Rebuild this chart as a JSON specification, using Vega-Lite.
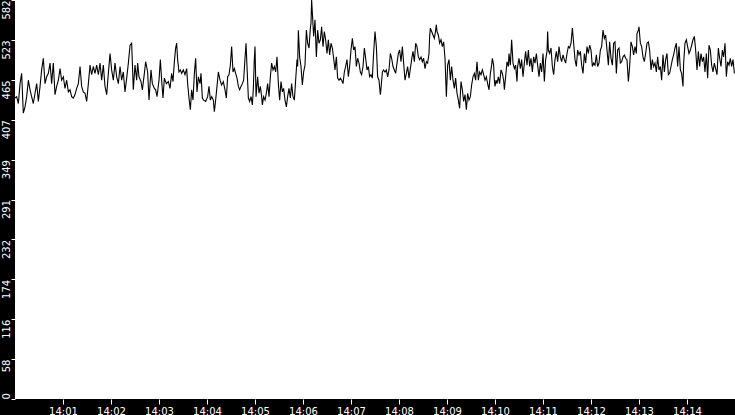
{
"$schema": "https://vega.github.io/schema/vega-lite/v6.json",
"width": 720, "height": 399,
"autosize": {"type": "none"},
"padding": {"left": 15, "top": 0, "right": 0, "bottom": 16},
"background": "black",
"config": {"view": {"fill": "white", "stroke": null}},
"data": {"values": [
{"s":0,"v":439},{"s":2.1,"v":441},{"s":4.2,"v":431},{"s":6.3,"v":460},{"s":8.3,"v":475},{"s":10.4,"v":417},{"s":12.5,"v":426},{"s":14.6,"v":441},{"s":16.7,"v":465},{"s":18.8,"v":451},
{"s":20.8,"v":441},{"s":22.9,"v":431},{"s":25,"v":446},{"s":27.1,"v":460},{"s":29.2,"v":434},{"s":31.3,"v":456},{"s":33.3,"v":480},{"s":35.4,"v":497},{"s":37.5,"v":460},{"s":39.6,"v":470},
{"s":41.7,"v":475},{"s":43.8,"v":490},{"s":45.8,"v":460},{"s":47.9,"v":490},{"s":50,"v":444},{"s":52.1,"v":456},{"s":54.2,"v":465},{"s":56.3,"v":482},{"s":58.3,"v":465},{"s":60.4,"v":470},
{"s":62.5,"v":453},{"s":64.6,"v":465},{"s":66.7,"v":448},{"s":68.8,"v":451},{"s":70.8,"v":441},{"s":72.9,"v":439},{"s":75,"v":444},{"s":77.1,"v":453},{"s":79.2,"v":460},{"s":81.3,"v":485},
{"s":83.3,"v":456},{"s":85.4,"v":448},{"s":87.5,"v":446},{"s":89.6,"v":434},{"s":91.7,"v":460},{"s":93.8,"v":487},{"s":95.8,"v":473},{"s":97.9,"v":485},{"s":100,"v":475},{"s":102.1,"v":487},
{"s":104.2,"v":473},{"s":106.3,"v":490},{"s":108.3,"v":465},{"s":110.4,"v":487},{"s":112.5,"v":456},{"s":114.6,"v":444},{"s":116.7,"v":475},{"s":118.8,"v":504},{"s":120.8,"v":480},{"s":122.9,"v":465},
{"s":125,"v":490},{"s":127.1,"v":470},{"s":129.2,"v":460},{"s":131.3,"v":485},{"s":133.3,"v":465},{"s":135.4,"v":477},{"s":137.5,"v":448},{"s":139.6,"v":468},{"s":141.7,"v":490},{"s":143.8,"v":516},
{"s":145.8,"v":519},{"s":147.9,"v":451},
{"s":150,"v":487},{"s":152.1,"v":465},{"s":153.3,"v":490},{"s":155,"v":470},{"s":157.5,"v":463},{"s":159.2,"v":451},{"s":161.7,"v":475},{"s":163.3,"v":492},{"s":165.8,"v":477},{"s":167.5,"v":436},
{"s":170,"v":480},{"s":171.7,"v":460},{"s":174.2,"v":453},{"s":175.8,"v":451},{"s":177.5,"v":441},{"s":180,"v":465},{"s":181.7,"v":495},{"s":183.3,"v":465},{"s":185,"v":439},{"s":186.7,"v":468},
{"s":189.2,"v":460},{"s":191.7,"v":463},{"s":193.8,"v":453},{"s":195.8,"v":475},{"s":197.5,"v":463},{"s":199.2,"v":492},{"s":200.8,"v":512},{"s":202.1,"v":519},{"s":203.3,"v":495},{"s":205,"v":477},
{"s":206.7,"v":480},{"s":208.3,"v":475},{"s":210.4,"v":480},{"s":212.5,"v":473},{"s":214.6,"v":482},{"s":215.8,"v":460},{"s":217.5,"v":439},{"s":219.2,"v":422},{"s":220.8,"v":451},{"s":222.5,"v":436},
{"s":224.2,"v":475},{"s":225.8,"v":497},{"s":227.5,"v":448},{"s":229.2,"v":470},{"s":231.3,"v":460},{"s":232.5,"v":475},{"s":234.2,"v":439},{"s":235.8,"v":436},{"s":238.3,"v":434},{"s":240.8,"v":441},
{"s":242.5,"v":456},{"s":244.2,"v":436},{"s":245.8,"v":441},{"s":247.9,"v":436},{"s":249.2,"v":419},{"s":250.8,"v":436},{"s":252.5,"v":456},{"s":254.2,"v":477},{"s":256.3,"v":465},{"s":258.3,"v":458},
{"s":260.4,"v":463},{"s":262.5,"v":451},{"s":264.2,"v":439},{"s":265.8,"v":470},{"s":267.5,"v":473},{"s":269.2,"v":487},{"s":270.8,"v":514},{"s":272.5,"v":477},{"s":274.2,"v":482},{"s":275.8,"v":475},
{"s":277.5,"v":468},{"s":279.2,"v":456},{"s":280.8,"v":451},{"s":282.5,"v":456},{"s":284.2,"v":460},{"s":285.8,"v":465},{"s":287.5,"v":497},{"s":288.8,"v":519},{"s":290,"v":485},{"s":291.7,"v":439},
{"s":293.3,"v":434},{"s":295,"v":441},{"s":296.7,"v":429},{"s":297.9,"v":453},{"s":299.2,"v":497},
{"s":300,"v":514},{"s":301.3,"v":441},{"s":303.3,"v":470},{"s":305,"v":446},{"s":306.7,"v":456},{"s":308.3,"v":441},{"s":309.2,"v":429},{"s":310.8,"v":441},{"s":312.5,"v":436},{"s":314.2,"v":446},
{"s":315.8,"v":460},{"s":317.5,"v":441},{"s":319.2,"v":470},{"s":320.8,"v":490},{"s":322.5,"v":480},{"s":324.2,"v":485},{"s":325.8,"v":477},{"s":327.5,"v":499},{"s":329.2,"v":460},{"s":330.8,"v":436},
{"s":332.5,"v":463},{"s":334.2,"v":448},{"s":335.8,"v":453},{"s":337.5,"v":436},{"s":339.2,"v":426},{"s":340.8,"v":441},{"s":342.5,"v":453},{"s":344.2,"v":439},{"s":345.8,"v":460},{"s":347.5,"v":441},
{"s":349.2,"v":436},{"s":350.8,"v":465},{"s":352.5,"v":495},{"s":353.3,"v":485},{"s":354.2,"v":538},{"s":355.8,"v":499},{"s":357.5,"v":485},{"s":359.2,"v":458},{"s":360.8,"v":477},{"s":362.5,"v":487},
{"s":364.2,"v":538},{"s":365.8,"v":519},{"s":367.5,"v":512},{"s":369.2,"v":541},{"s":370,"v":548},{"s":370.8,"v":582},{"s":371.7,"v":563},{"s":373.3,"v":529},{"s":375,"v":553},{"s":376.7,"v":499},
{"s":378.3,"v":538},{"s":380,"v":519},{"s":381.7,"v":524},{"s":383.3,"v":543},{"s":385,"v":514},{"s":386.7,"v":536},{"s":388.3,"v":524},{"s":390,"v":504},{"s":391.7,"v":524},{"s":393.3,"v":502},
{"s":395,"v":519},{"s":396.7,"v":512},{"s":398.3,"v":497},{"s":400,"v":480},{"s":401.7,"v":499},{"s":403.3,"v":468},{"s":405,"v":465},{"s":406.7,"v":468},{"s":408.3,"v":465},{"s":410,"v":460},
{"s":411.7,"v":477},{"s":413.3,"v":485},{"s":415,"v":495},{"s":416.7,"v":470},{"s":418.3,"v":485},{"s":420,"v":509},{"s":421.7,"v":526},{"s":423.3,"v":509},{"s":425,"v":514},{"s":426.7,"v":485},
{"s":428.3,"v":497},{"s":430,"v":490},{"s":431.7,"v":477},{"s":433.3,"v":473},{"s":435,"v":485},{"s":436.7,"v":512},{"s":438.3,"v":497},{"s":440,"v":480},{"s":441.7,"v":485},{"s":443.3,"v":470},
{"s":445,"v":473},{"s":446.7,"v":468},{"s":447.9,"v":497},
{"s":450,"v":536},{"s":451.7,"v":514},{"s":453.3,"v":470},{"s":455,"v":465},{"s":456.7,"v":444},{"s":457.5,"v":453},{"s":459.2,"v":477},{"s":460.8,"v":480},{"s":462.5,"v":477},{"s":464.2,"v":480},
{"s":465.8,"v":470},{"s":467.5,"v":480},{"s":469.2,"v":504},{"s":470.8,"v":497},{"s":472.5,"v":485},{"s":474.2,"v":480},{"s":475.8,"v":475},{"s":477.5,"v":490},{"s":479.2,"v":504},{"s":480.8,"v":509},
{"s":482.5,"v":492},{"s":484.2,"v":514},{"s":485.8,"v":490},{"s":487.5,"v":465},{"s":489.2,"v":475},{"s":490.8,"v":485},{"s":492.5,"v":468},{"s":494.2,"v":482},{"s":495.8,"v":495},{"s":497.5,"v":507},
{"s":499.2,"v":492},{"s":500.8,"v":519},{"s":502.5,"v":514},{"s":504.2,"v":499},{"s":505.8,"v":495},{"s":507.5,"v":499},{"s":509.2,"v":492},{"s":510.8,"v":497},{"s":512.5,"v":482},{"s":514.2,"v":492},
{"s":515.8,"v":490},{"s":517.5,"v":504},{"s":518.3,"v":529},{"s":519.2,"v":541},{"s":520.8,"v":536},{"s":522.5,"v":531},{"s":524.2,"v":526},{"s":525.8,"v":538},{"s":526.7,"v":546},{"s":527.5,"v":536},
{"s":529.2,"v":531},{"s":530.8,"v":519},{"s":532.5,"v":524},{"s":534.2,"v":514},{"s":535.8,"v":521},{"s":537.5,"v":497},{"s":539.2,"v":441},{"s":540.8,"v":487},{"s":542.5,"v":495},{"s":544.2,"v":465},
{"s":545.8,"v":485},{"s":547.5,"v":465},{"s":549.2,"v":453},{"s":550.8,"v":468},{"s":552.5,"v":446},{"s":554.2,"v":436},{"s":555.8,"v":424},{"s":557.5,"v":463},{"s":559.2,"v":451},{"s":560.8,"v":434},
{"s":562.5,"v":444},{"s":564.2,"v":422},{"s":565.8,"v":446},{"s":567.5,"v":436},{"s":569.2,"v":441},{"s":570.8,"v":458},{"s":572.5,"v":470},{"s":574.2,"v":475},{"s":575.8,"v":465},{"s":577.5,"v":492},
{"s":579.2,"v":465},{"s":580.8,"v":477},{"s":582.5,"v":473},{"s":584.2,"v":480},{"s":585.8,"v":473},{"s":587.5,"v":465},{"s":589.2,"v":470},{"s":590.8,"v":460},{"s":592.5,"v":451},{"s":594.2,"v":475},
{"s":595.8,"v":487},{"s":596.7,"v":497},{"s":598.3,"v":487},{"s":599.2,"v":465},
{"s":600,"v":456},{"s":601.3,"v":465},{"s":602.5,"v":460},{"s":604.2,"v":470},{"s":605.8,"v":460},{"s":607.5,"v":480},{"s":609.2,"v":475},{"s":610.8,"v":465},{"s":611.7,"v":451},{"s":613.3,"v":470},
{"s":615,"v":492},{"s":616.7,"v":485},{"s":617.5,"v":504},{"s":619.2,"v":487},{"s":620.8,"v":524},{"s":622.5,"v":490},{"s":624.2,"v":482},{"s":625.8,"v":487},{"s":627.5,"v":463},{"s":628.3,"v":485},
{"s":630,"v":497},{"s":631.7,"v":482},{"s":633.3,"v":495},{"s":635,"v":470},{"s":636.7,"v":490},{"s":638.3,"v":507},{"s":640,"v":487},{"s":641.7,"v":509},{"s":643.3,"v":485},{"s":645,"v":497},
{"s":646.7,"v":477},{"s":648.3,"v":499},{"s":650,"v":490},{"s":651.7,"v":504},{"s":653.3,"v":487},{"s":655,"v":470},{"s":656.7,"v":490},{"s":658.3,"v":477},{"s":660,"v":504},{"s":661.7,"v":463},
{"s":663.3,"v":495},{"s":665,"v":507},{"s":665.8,"v":536},{"s":666.7,"v":509},{"s":668.3,"v":504},{"s":670,"v":512},{"s":671.7,"v":485},{"s":673.3,"v":473},{"s":675,"v":495},{"s":676.7,"v":507},
{"s":678.3,"v":492},{"s":680,"v":514},{"s":681.7,"v":499},{"s":683.3,"v":492},{"s":685,"v":502},{"s":686.7,"v":495},{"s":688.3,"v":490},{"s":690,"v":504},{"s":691.7,"v":514},{"s":693.3,"v":512},
{"s":695,"v":519},{"s":696.7,"v":541},{"s":698.3,"v":519},{"s":700,"v":495},{"s":701.7,"v":485},{"s":703.3,"v":509},{"s":705,"v":502},{"s":706.7,"v":507},{"s":708.3,"v":487},{"s":710,"v":475},
{"s":711.7,"v":504},{"s":713.3,"v":490},{"s":715,"v":514},{"s":716.7,"v":504},{"s":718.3,"v":516},{"s":720,"v":509},{"s":721.7,"v":485},{"s":723.3,"v":490},{"s":725,"v":487},{"s":726.7,"v":502},
{"s":728.3,"v":485},{"s":730,"v":490},{"s":731.7,"v":509},{"s":733.3,"v":514},{"s":735,"v":538},{"s":736.7,"v":526},{"s":738.3,"v":531},{"s":740,"v":509},{"s":741.7,"v":487},{"s":743.3,"v":521},
{"s":745,"v":497},{"s":746.7,"v":487},{"s":748.3,"v":519},
{"s":750,"v":521},{"s":751.7,"v":475},{"s":753.3,"v":509},{"s":755,"v":512},{"s":756.7,"v":490},{"s":758.3,"v":492},{"s":760,"v":499},{"s":761.7,"v":502},{"s":763.3,"v":497},{"s":765,"v":495},
{"s":766.7,"v":463},{"s":768.3,"v":485},{"s":770,"v":521},{"s":771.7,"v":514},{"s":773.3,"v":502},{"s":775,"v":514},{"s":776.7,"v":504},{"s":777.5,"v":533},{"s":779.2,"v":538},{"s":780,"v":543},
{"s":781.7,"v":519},{"s":783.3,"v":514},{"s":785,"v":499},{"s":786.7,"v":492},{"s":788.3,"v":504},{"s":790,"v":519},{"s":791.7,"v":521},{"s":793.3,"v":509},{"s":795,"v":480},{"s":796.7,"v":495},
{"s":798.3,"v":485},{"s":800,"v":490},{"s":801.7,"v":477},{"s":803.3,"v":499},{"s":805,"v":480},{"s":806.7,"v":485},{"s":808.3,"v":465},{"s":810,"v":502},{"s":811.7,"v":477},{"s":813.3,"v":495},
{"s":815,"v":504},{"s":816.7,"v":473},{"s":818.3,"v":475},{"s":820,"v":485},{"s":821.7,"v":495},{"s":823.3,"v":502},{"s":825,"v":512},{"s":826.7,"v":519},{"s":828.3,"v":485},{"s":830,"v":514},
{"s":831.7,"v":480},{"s":833.3,"v":475},{"s":835,"v":456},{"s":835.8,"v":490},{"s":837.5,"v":519},{"s":839.2,"v":524},{"s":840.8,"v":514},{"s":842.5,"v":504},{"s":844.2,"v":509},{"s":845.8,"v":516},
{"s":847.5,"v":524},{"s":849.2,"v":529},{"s":850.8,"v":509},{"s":852.5,"v":480},{"s":854.2,"v":507},{"s":855.8,"v":485},{"s":857.5,"v":504},{"s":859.2,"v":492},{"s":860.8,"v":499},{"s":862.5,"v":477},
{"s":864.2,"v":504},{"s":865.8,"v":468},{"s":867.5,"v":516},{"s":869.2,"v":509},{"s":870.8,"v":487},{"s":872.5,"v":477},{"s":874.2,"v":490},{"s":875.8,"v":482},{"s":877.5,"v":473},{"s":879.2,"v":512},
{"s":880.8,"v":497},{"s":882.5,"v":485},{"s":884.2,"v":509},{"s":885.8,"v":499},{"s":887.5,"v":519},{"s":889.2,"v":470},{"s":890.8,"v":492},{"s":892.5,"v":487},{"s":894.2,"v":497},{"s":895.8,"v":485},
{"s":897.5,"v":495},{"s":899.2,"v":475}
]},
"mark": {"type": "line", "color": "black", "strokeWidth": 1.1, "clip": true},
"encoding": {
  "x": {"field": "s", "type": "quantitative",
    "scale": {"domain": [0, 900], "nice": false, "zero": false},
    "axis": {"title": null, "values": [60,120,180,240,300,360,420,480,540,600,660,720,780,840],
      "labelExpr": "'14:' + (datum.value < 600 ? '0' : '') + floor(datum.value/60)",
      "grid": false, "domain": false, "tickColor": "white", "tickSize": 5, "tickWidth": 1,
      "labelColor": "white", "labelFont": "DejaVu Sans", "labelFontSize": 10, "labelPadding": 2,
      "labelFlush": false, "labelOverlap": false}},
  "y": {"field": "v", "type": "quantitative",
    "scale": {"domain": [0, 582], "nice": false},
    "axis": {"title": null, "values": [0,58.2,116.4,174.6,232.8,291,349.2,407.4,465.6,523.8,582],
      "labelExpr": "floor(datum.value)",
      "grid": false, "domain": false, "tickColor": "white", "tickSize": 4, "tickWidth": 1,
      "labelColor": "white", "labelFont": "DejaVu Sans", "labelFontSize": 10,
      "labelAngle": 270,
      "labelAlign": {"condition": {"test": "datum.value == 0", "value": "left"}, "value": "right"},
      "labelBaseline": "bottom", "labelPadding": 0, "labelFlush": false, "labelOverlap": false}}
}
}
